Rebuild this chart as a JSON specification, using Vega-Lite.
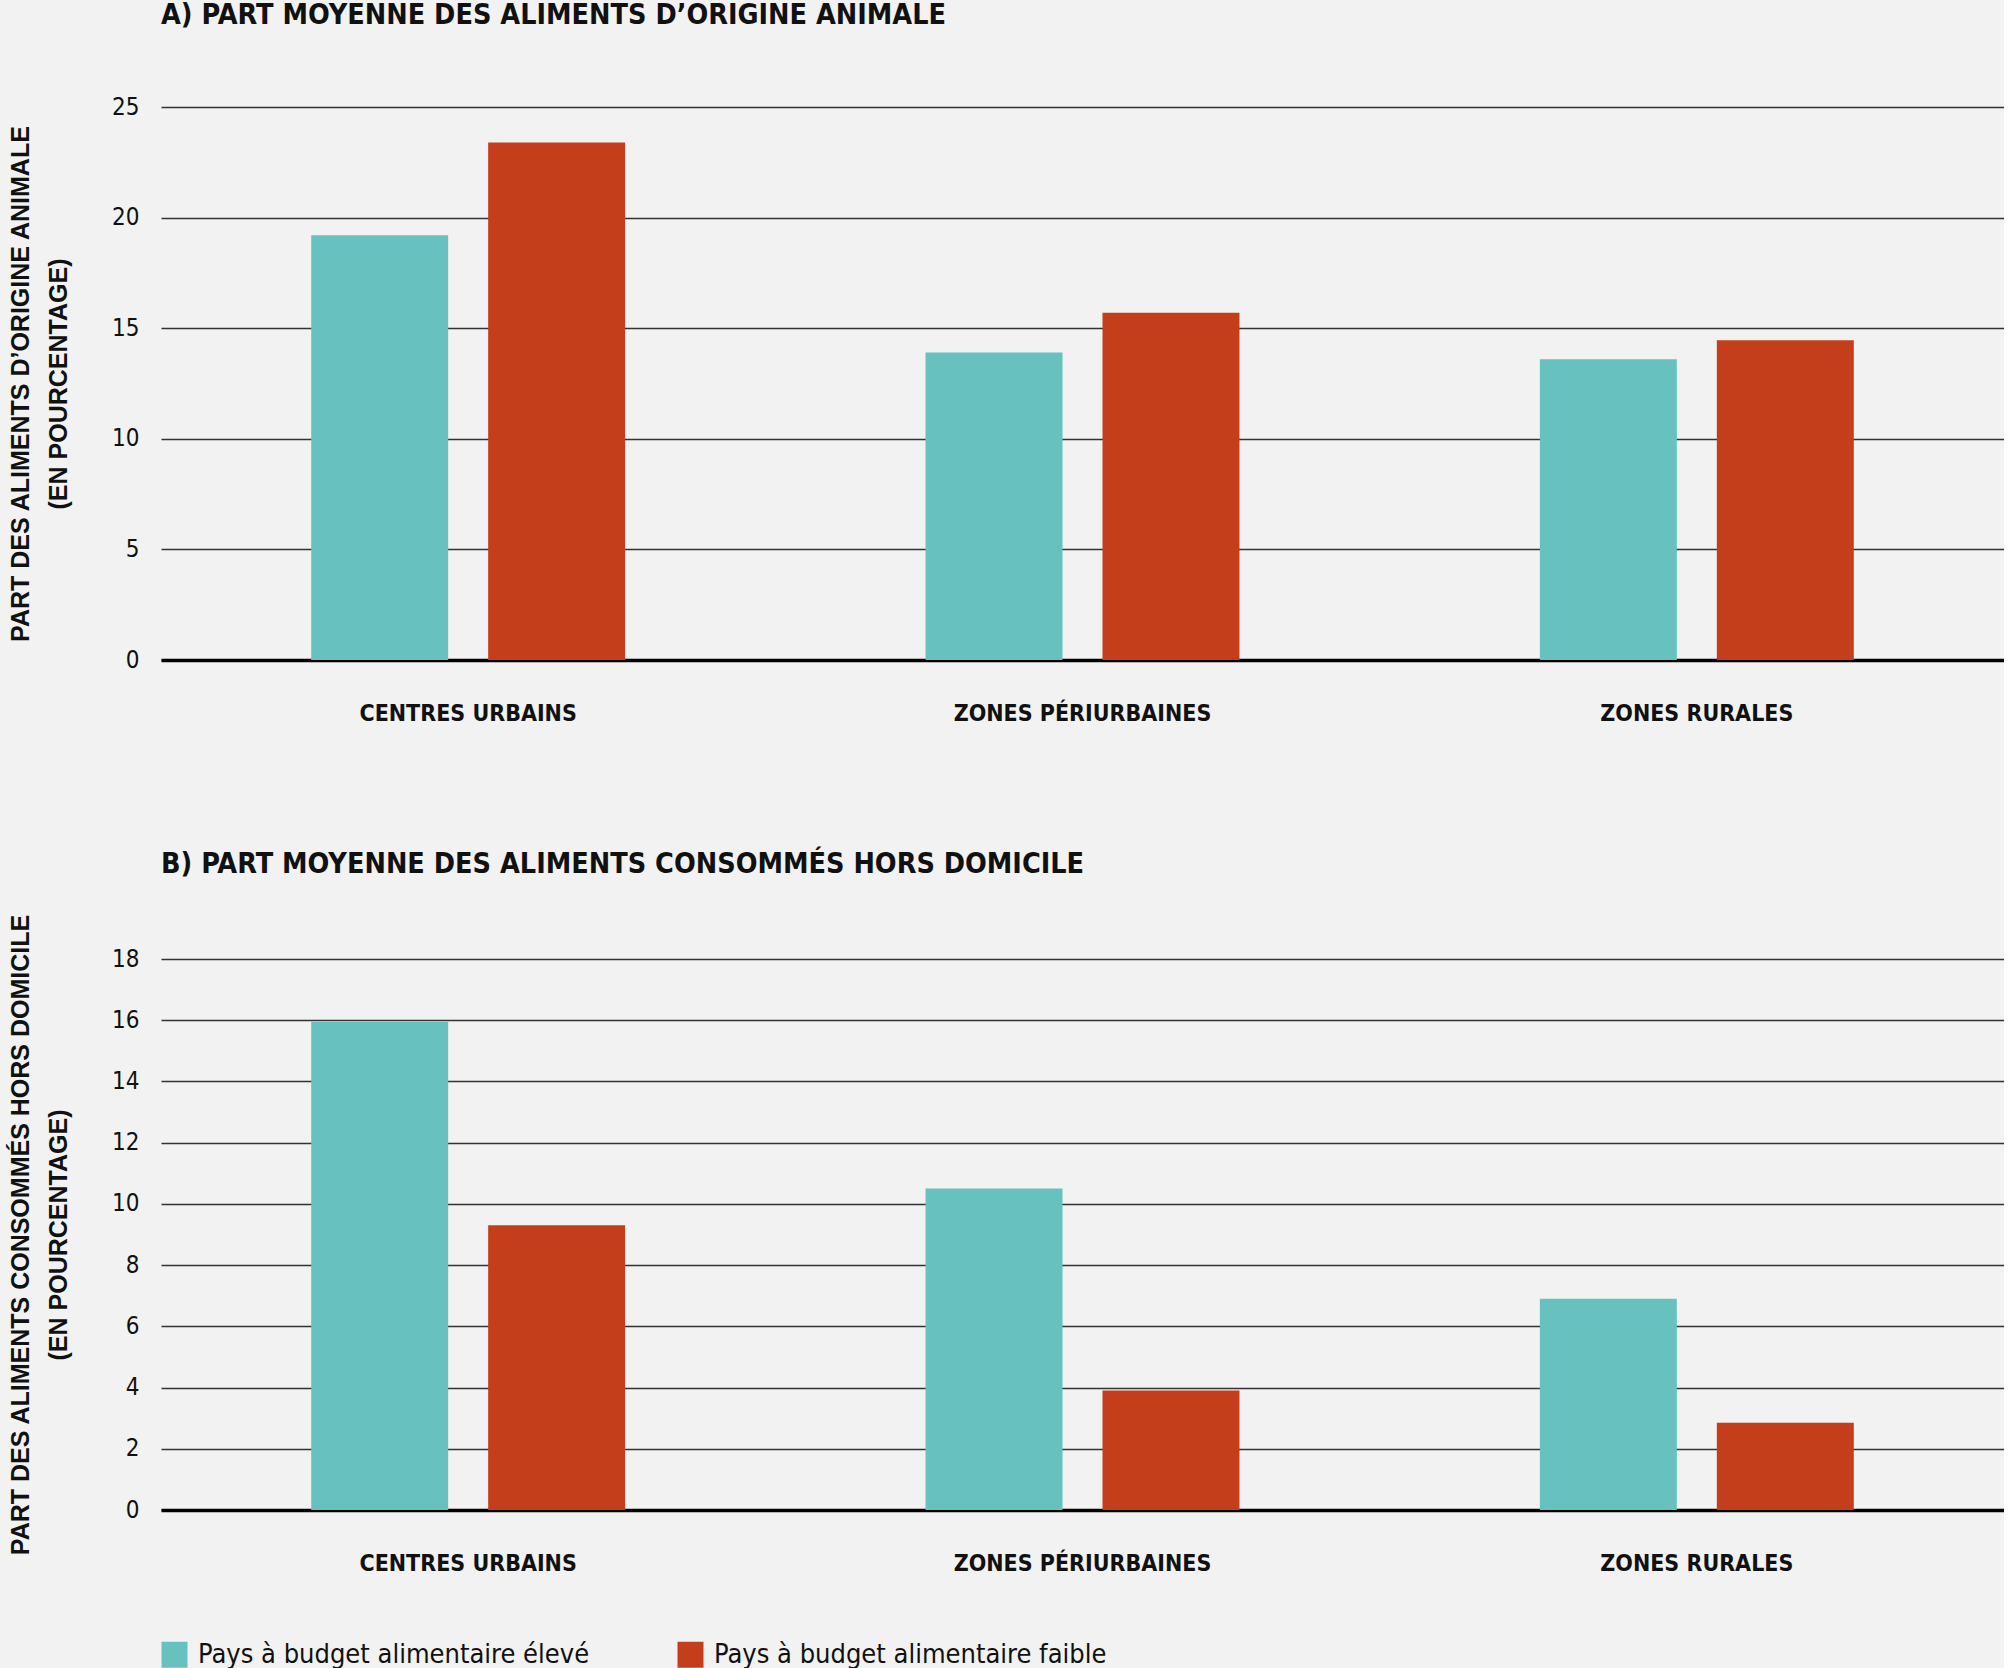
{
  "$schema": "https://vega.github.io/schema/vega-lite/v6.json",
  "background": "#f2f2f2",
  "padding": {"left": 8, "top": 0, "right": 0, "bottom": 0},
  "data": {
    "values": [
      {"panel": "A", "zone": "CENTRES URBAINS", "groupe": "Pays à budget alimentaire élevé", "part": 19.2},
      {"panel": "A", "zone": "CENTRES URBAINS", "groupe": "Pays à budget alimentaire faible", "part": 23.4},
      {"panel": "A", "zone": "ZONES PÉRIURBAINES", "groupe": "Pays à budget alimentaire élevé", "part": 13.9},
      {"panel": "A", "zone": "ZONES PÉRIURBAINES", "groupe": "Pays à budget alimentaire faible", "part": 15.7},
      {"panel": "A", "zone": "ZONES RURALES", "groupe": "Pays à budget alimentaire élevé", "part": 13.6},
      {"panel": "A", "zone": "ZONES RURALES", "groupe": "Pays à budget alimentaire faible", "part": 14.45},
      {"panel": "B", "zone": "CENTRES URBAINS", "groupe": "Pays à budget alimentaire élevé", "part": 15.95},
      {"panel": "B", "zone": "CENTRES URBAINS", "groupe": "Pays à budget alimentaire faible", "part": 9.3},
      {"panel": "B", "zone": "ZONES PÉRIURBAINES", "groupe": "Pays à budget alimentaire élevé", "part": 10.5},
      {"panel": "B", "zone": "ZONES PÉRIURBAINES", "groupe": "Pays à budget alimentaire faible", "part": 3.9},
      {"panel": "B", "zone": "ZONES RURALES", "groupe": "Pays à budget alimentaire élevé", "part": 6.9},
      {"panel": "B", "zone": "ZONES RURALES", "groupe": "Pays à budget alimentaire faible", "part": 2.85}
    ]
  },
  "spacing": 125,
  "vconcat": [
    {
      "width": 1843,
      "height": 553,
      "title": {"text": "A) PART MOYENNE DES ALIMENTS D’ORIGINE ANIMALE", "offset": 66},
      "transform": [{"filter": "datum.panel == 'A'"}],
      "mark": "bar",
      "encoding": {
        "x": {
          "field": "zone",
          "type": "nominal",
          "sort": ["CENTRES URBAINS", "ZONES PÉRIURBAINES", "ZONES RURALES"],
          "scale": {"paddingInner": 0.489, "paddingOuter": 0.2445},
          "axis": {"title": null}
        },
        "xOffset": {
          "field": "groupe",
          "type": "nominal",
          "sort": ["Pays à budget alimentaire élevé", "Pays à budget alimentaire faible"],
          "scale": {"paddingInner": 0.226, "paddingOuter": 0}
        },
        "y": {
          "field": "part",
          "type": "quantitative",
          "scale": {"domain": [0, 25]},
          "axis": {
            "values": [0, 5, 10, 15, 20, 25],
            "title": ["PART DES ALIMENTS D’ORIGINE ANIMALE", "(EN POURCENTAGE)"]
          }
        },
        "color": {
          "field": "groupe",
          "type": "nominal",
          "sort": ["Pays à budget alimentaire élevé", "Pays à budget alimentaire faible"],
          "scale": {"range": ["#67c2bf", "#c43e1c"]}
        }
      }
    },
    {
      "width": 1843,
      "height": 551,
      "title": {"text": "B) PART MOYENNE DES ALIMENTS CONSOMMÉS HORS DOMICILE", "offset": 35},
      "transform": [{"filter": "datum.panel == 'B'"}],
      "mark": "bar",
      "encoding": {
        "x": {
          "field": "zone",
          "type": "nominal",
          "sort": ["CENTRES URBAINS", "ZONES PÉRIURBAINES", "ZONES RURALES"],
          "scale": {"paddingInner": 0.489, "paddingOuter": 0.2445},
          "axis": {"title": null}
        },
        "xOffset": {
          "field": "groupe",
          "type": "nominal",
          "sort": ["Pays à budget alimentaire élevé", "Pays à budget alimentaire faible"],
          "scale": {"paddingInner": 0.226, "paddingOuter": 0}
        },
        "y": {
          "field": "part",
          "type": "quantitative",
          "scale": {"domain": [0, 18]},
          "axis": {
            "values": [0, 2, 4, 6, 8, 10, 12, 14, 16, 18],
            "title": ["PART DES ALIMENTS CONSOMMÉS HORS DOMICILE", "(EN POURCENTAGE)"]
          }
        },
        "color": {
          "field": "groupe",
          "type": "nominal",
          "sort": ["Pays à budget alimentaire élevé", "Pays à budget alimentaire faible"],
          "scale": {"range": ["#67c2bf", "#c43e1c"]}
        }
      }
    }
  ],
  "resolve": {"scale": {"y": "independent"}},
  "config": {
    "view": {"stroke": null},
    "title": {
      "anchor": "start",
      "frame": "group",
      "font": "DejaVu Sans Condensed, sans-serif",
      "fontWeight": "bold",
      "fontSize": 28.5,
      "color": "#111111"
    },
    "legend": {
      "title": null,
      "orient": "bottom",
      "direction": "horizontal",
      "offset": 66,
      "symbolType": "square",
      "symbolSize": 676,
      "symbolStrokeWidth": 0,
      "symbolOpacity": 1,
      "labelFont": "DejaVu Sans Condensed, sans-serif",
      "labelFontSize": 27,
      "labelColor": "#111111",
      "labelLimit": 600,
      "labelOffset": 10,
      "columnPadding": 87
    },
    "axisX": {
      "domain": true,
      "domainColor": "#000000",
      "domainWidth": 3.5,
      "ticks": false,
      "grid": false,
      "labelAngle": 0,
      "labelFont": "DejaVu Sans Condensed, sans-serif",
      "labelFontWeight": "bold",
      "labelFontSize": 23,
      "labelColor": "#111111",
      "labelPadding": 42,
      "labelLimit": 500
    },
    "axisY": {
      "domain": false,
      "ticks": false,
      "grid": true,
      "gridColor": "#333333",
      "gridWidth": 1.5,
      "labelFont": "DejaVu Sans Condensed, sans-serif",
      "labelFontSize": 24,
      "labelColor": "#111111",
      "labelPadding": 22,
      "titleFont": "Liberation Sans, Arial, sans-serif",
      "titleFontWeight": "bold",
      "titleFontSize": 25,
      "titleColor": "#111111",
      "titleLineHeight": 38,
      "titlePadding": 40
    }
  }
}
